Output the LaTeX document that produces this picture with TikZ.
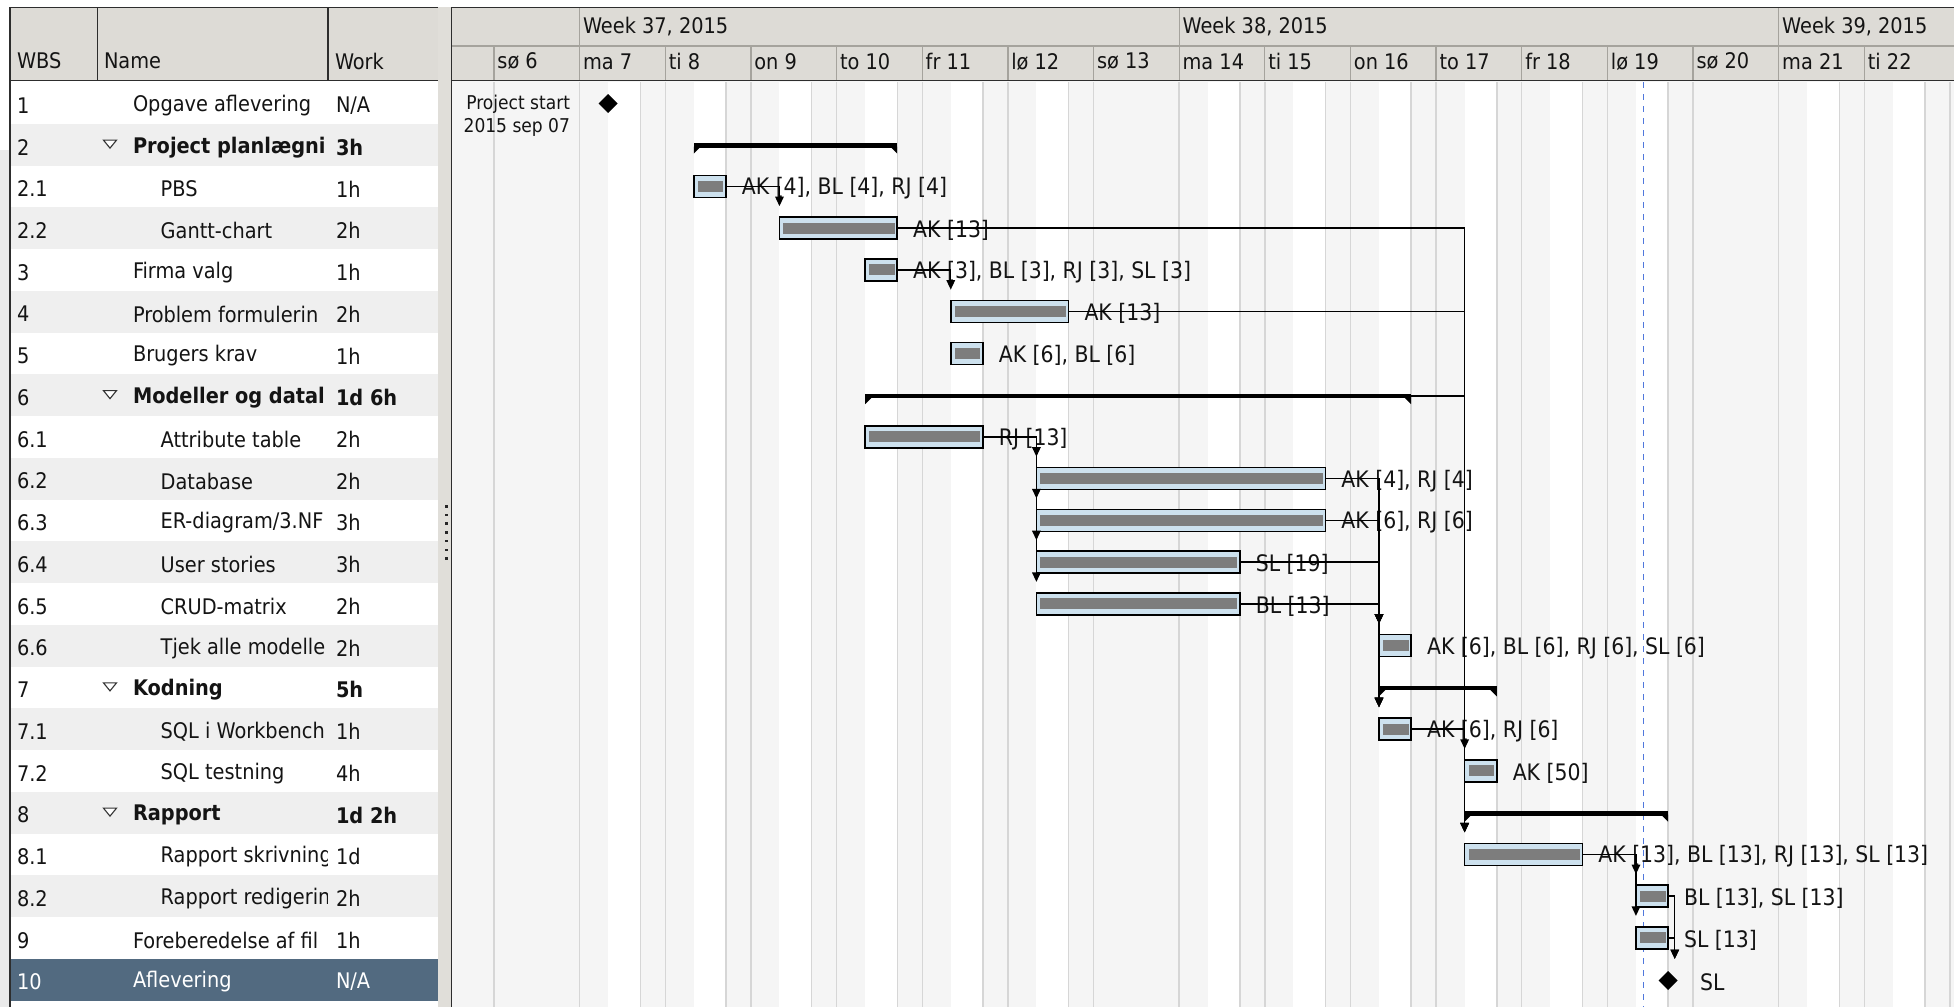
\documentclass[tikz,border=0pt]{standalone}
\usepackage{fontspec}
\setmainfont{DejaVu Sans Condensed}
\usetikzlibrary{arrows.meta,positioning,shapes.geometric}
\definecolor{hdrbg}{RGB}{221,219,214}
\definecolor{hdrline}{RGB}{165,163,157}
\definecolor{frm}{RGB}{45,45,45}
\definecolor{rowalt}{RGB}{239,239,239}
\definecolor{sel}{RGB}{82,106,128}
\definecolor{nonwork}{RGB}{245,245,245}
\definecolor{gridc}{RGB}{214,214,214}
\definecolor{barblue}{RGB}{205,225,238}
\definecolor{barin}{RGB}{125,125,125}
\definecolor{todayc}{RGB}{80,120,220}
\definecolor{txt}{RGB}{20,20,20}
\definecolor{split}{RGB}{224,222,217}
\definecolor{wmark}{RGB}{234,234,234}
\newcommand\tx[2]{579.6+85.65*(#1)+3.5688*(#2)}
\newcommand\gbar[4]{%
  \pgfmathsetmacro\gx{#2}\pgfmathsetmacro\gw{#3-(#2)}\pgfmathsetmacro\gy{102.9+41.75*#4}%
  \node[taskbar, minimum width=\gw pt, anchor=west] (#1) at (\gx,\gy) {};}
\newcommand\gsum[4]{%
  \pgfmathsetmacro\gx{#2}\pgfmathsetmacro\gxx{#3}\pgfmathsetmacro\gw{#3-(#2)}\pgfmathsetmacro\gy{102.9+41.75*#4}%
  \node[sumbar, minimum width=\gw pt, anchor=west] (#1) at (\gx,\gy+0.75) {};
  \fill (\gx,\gy+2) -- (\gx,\gy+9) -- (\gx+7,\gy+2) -- cycle;
  \fill (\gxx,\gy+2) -- (\gxx,\gy+9) -- (\gxx-7,\gy+2) -- cycle;}
\begin{document}
\begin{tikzpicture}[x=1pt,y=-1pt,
  every node/.style={inner sep=0pt, outer sep=0pt},
  tbl/.style={font=\fontsize{21.5}{25}\selectfont, text=txt, anchor=west},
  lab/.style={font=\fontsize{22.7}{26}\selectfont, text=txt, anchor=west},
  gridl/.style={draw=gridc, line width=1.4pt},
  hline/.style={draw=hdrline, line width=1.3pt},
  frame/.style={draw=frm, line width=1.6pt},
  taskbar/.style={rectangle, draw=black, line width=1.6pt, fill=barblue,
    minimum height=22pt, inner sep=0pt, outer sep=0pt,
    path picture={\fill[barin] ([xshift=4pt,yshift=-5.5pt]path picture bounding box.north west)
      rectangle ([xshift=-2.5pt,yshift=5.5pt]path picture bounding box.south east);}},
  sumbar/.style={rectangle, fill=black, minimum height=4.5pt, inner sep=0pt, outer sep=0pt},
  mile/.style={diamond, fill=black, minimum width=19pt, minimum height=19pt, inner sep=0pt},
  link/.style={draw=black, line width=1.4pt, -{Triangle[width=8.5pt,length=9.5pt]}},
  today/.style={draw=todayc, line width=1.4pt, dash pattern=on 6pt off 6pt}
]
\useasboundingbox (0,0) rectangle (1954,1007);
\fill[white] (0,0) rectangle (1954,1007);
\fill[wmark] (0,150) rectangle (9.5,1007);

% ---------- table ----------
\fill[hdrbg] (10,7) rectangle (438,81);
\foreach \rr in {1,3,...,19} {
  \pgfmathsetmacro\yt{82+41.75*\rr}
  \fill[rowalt] (11,\yt) rectangle (438,\yt+41.75);
}
\fill[sel] (11,958.75) rectangle (438,1000.5);
\fill[split] (438,7) rectangle (451,1007);
\foreach \kk in {0,...,6} \fill[black!85] (445,{505+8.7*\kk}) rectangle ++(2.6,2.6);

\node[tbl] (hwbs) at (17,61) {WBS};
\node[tbl] (hname) at (104,61) {Name};
\node[tbl] (hwork) at (335,61) {Work};

\foreach \rr/\ww/\nn/\lv/\wv in {
 0/1/Opgave aflevering/1/{N/A},
 1/2/Project planlægni/0/3h,
 2/2.1/PBS/2/1h,
 3/2.2/Gantt-chart/2/2h,
 4/3/Firma valg/1/1h,
 5/4/Problem formulerin/1/2h,
 6/5/Brugers krav/1/1h,
 7/6/Modeller og datal/0/1d 6h,
 8/6.1/Attribute table/2/2h,
 9/6.2/Database/2/2h,
 10/6.3/{ER-diagram/3.NF}/2/3h,
 11/6.4/User stories/2/3h,
 12/6.5/CRUD-matrix/2/2h,
 13/6.6/Tjek alle modelle/2/2h,
 14/7/Kodning/0/5h,
 15/7.1/SQL i Workbench/2/1h,
 16/7.2/SQL testning/2/4h,
 17/8/Rapport/0/1d 2h,
 18/8.1/Rapport skrivning/2/1d,
 19/8.2/Rapport redigerin/2/2h,
 20/9/Foreberedelse af fil/1/1h}
{
  \pgfmathsetmacro\yc{102.9+41.75*\rr}
  \pgfmathsetmacro\nx{ifthenelse(\lv==2,160.7,133)}
  \node[tbl] (wbs\rr) at (17,\yc+2.5) {\ww};
  \node[tbl] (work\rr) at (336,\yc+2.5) {\ifnum\lv=0 \bfseries\fi\wv};
  \begin{scope}
    \clip (98,\yc-20) rectangle (327.5,\yc+20);
    \node[tbl] (name\rr) at (\nx,\yc+2.5) {\ifnum\lv=0 \bfseries\fi\nn};
  \end{scope}
  \ifnum\lv=0
    \draw[draw=black!80, fill=white, line width=1.1pt] (103.5,\yc-4.5) -- (116.5,\yc-4.5) -- (110,\yc+3.5) -- cycle;
  \fi
}
\node[tbl, text=white] (wbs21) at (17,982) {10};
\node[tbl, text=white] (name21) at (133,982) {Aflevering};
\node[tbl, text=white] (work21) at (336,982) {N/A};

\draw[frame] (97.3,7) -- (97.3,80);
\draw[frame] (328,7) -- (328,80);
\draw[frame] (10,80.5) -- (438,80.5);
\draw[frame] (10,7.3) -- (438,7.3);
\draw[frame] (10,7) -- (10,1007);

% ---------- chart background ----------
\fill[nonwork] (452,81) rectangle (1954,1007);
\fill[hdrbg] (452,7) rectangle (1954,81);
\draw[hline] (452,46) -- (1954,46);
\foreach \dd/\lab/\isw in {-1/sø 6/0, 0/ma 7/1, 1/ti 8/1, 2/on 9/1, 3/to 10/1, 4/fr 11/1, 5/lø 12/1, 6/sø 13/0, 7/ma 14/1, 8/ti 15/1, 9/on 16/1, 10/to 17/1, 11/fr 18/1, 12/lø 19/1, 13/sø 20/0, 14/ma 21/1, 15/ti 22/1}
{
  \pgfmathsetmacro\dx{579.6+85.65*\dd}
  \ifnum\isw=1
    \fill[white] (\dx+28.55,82) rectangle (\dx+60.7,1007);
    \draw[gridl] (\dx+60.7,82) -- (\dx+60.7,1007);
  \fi
  \draw[gridl] (\dx,82) -- (\dx,1007);
  \draw[hline] (\dx,46) -- (\dx,80);
  \node[tbl] (day\dd) at (\dx+3.5,61.5) {\lab};
}
\draw[gridl] (1950.0,82) -- (1950.0,1007);
\foreach \dd/\wkn in {0/37, 7/38, 14/39} {
  \pgfmathsetmacro\dx{579.6+85.65*\dd}
  \draw[hline] (\dx,7) -- (\dx,46);
  \node[tbl] (week\wkn) at (\dx+3.5,27) {Week \wkn, 2015};
}
\draw[frame] (452,80.5) -- (1954,80.5);
\draw[frame] (452,7.3) -- (1954,7.3);
\draw[frame] (451.5,7) -- (451.5,1007);

% today line
\coordinate (today0) at (1643.3,82);
\coordinate (today1) at (1643.3,1007);
\draw[today] (today0) -- (today1);

% ---------- bars ----------
\node[mile] (m1) at ({\tx{0}{8}},103.5) {};
\node[font=\fontsize{19}{23}\selectfont, text=txt, align=right, anchor=east] (pstart) at (570,116) {Project start\\2015 sep 07};

\gsum{s2}{\tx{1}{8}}{\tx{3}{17}}{1}
\gbar{b21}{\tx{1}{8}}{\tx{1}{17}}{2}
\gbar{b22}{\tx{2}{8}}{\tx{3}{17}}{3}
\gbar{b3}{\tx{3}{8}}{\tx{3}{17}}{4}
\gbar{b4}{\tx{4}{8}}{\tx{5}{17}}{5}
\gbar{b5}{\tx{4}{8}}{\tx{4}{17}}{6}
\gsum{s6}{\tx{3}{8}}{\tx{9}{17}}{7}
\gbar{b61}{\tx{3}{8}}{\tx{4}{17}}{8}
\gbar{b62}{\tx{5}{8}}{\tx{8}{17}}{9}
\gbar{b63}{\tx{5}{8}}{\tx{8}{17}}{10}
\gbar{b64}{\tx{5}{8}}{\tx{7}{17}}{11}
\gbar{b65}{\tx{5}{8}}{\tx{7}{17}}{12}
\gbar{b66}{\tx{9}{8}}{\tx{9}{17}}{13}
\gsum{s7}{\tx{9}{8}}{\tx{10}{17}}{14}
\gbar{b71}{\tx{9}{8}}{\tx{9}{17}}{15}
\gbar{b72}{\tx{10}{8}}{\tx{10}{17}}{16}
\gsum{s8}{\tx{10}{8}}{\tx{12}{17}}{17}
\gbar{b81}{\tx{10}{8}}{\tx{11}{17}}{18}
\gbar{b82}{\tx{12}{8}}{\tx{12}{17}}{19}
\gbar{b9}{\tx{12}{8}}{\tx{12}{17}}{20}
\node[mile] (m10) at ({\tx{12}{17}},980.5) {};

% ---------- labels ----------
\tikzset{lab/.append style={yshift=-2pt}}
\node[lab, right=16pt of b21] (l21) {AK [4], BL [4], RJ [4]};
\node[lab, right=16pt of b22] (l22) {AK [13]};
\node[lab, right=16pt of b3] (l3) {AK [3], BL [3], RJ [3], SL [3]};
\node[lab, right=16pt of b4] (l4) {AK [13]};
\node[lab, right=16pt of b5] (l5) {AK [6], BL [6]};
\node[lab, right=16pt of b61] (l61) {RJ [13]};
\node[lab, right=16pt of b62] (l62) {AK [4], RJ [4]};
\node[lab, right=16pt of b63] (l63) {AK [6], RJ [6]};
\node[lab, right=16pt of b64] (l64) {SL [19]};
\node[lab, right=16pt of b65] (l65) {BL [13]};
\node[lab, right=16pt of b66] (l66) {AK [6], BL [6], RJ [6], SL [6]};
\node[lab, right=16pt of b71] (l71) {AK [6], RJ [6]};
\node[lab, right=16pt of b72] (l72) {AK [50]};
\node[lab, right=16pt of b81] (l81) {AK [13], BL [13], RJ [13], SL [13]};
\node[lab, right=16pt of b82] (l82) {BL [13], SL [13]};
\node[lab, right=16pt of b9] (l9) {SL [13]};
\node[lab, right=22.5pt of m10] (l10) {SL};

% ---------- links ----------
\draw[link] (b21.east) -| ([yshift=11pt]b22.north west);
\draw[link] (b22.east) -| ([yshift=11pt]b81.north west);
\draw[link] (b3.east) -| ([yshift=11pt]b4.north west);
\draw[link] (b4.east) -| ([yshift=11pt]b81.north west);
\draw[link] (s6.east) -| ([yshift=11pt]b81.north west);
\foreach \tg in {b62,b63,b64,b65} \draw[link] (b61.east) -| ([yshift=11pt]\tg.north west);
\foreach \sr in {b62,b63,b64,b65} {
  \draw[link] (\sr.east) -| ([yshift=11pt]b66.north west);
  \draw[link] (\sr.east) -| ([yshift=11pt]b71.north west);
}
\draw[link] (b71.east) -| ([yshift=11pt]b72.north west);
\draw[link] (b81.east) -| ([yshift=11pt]b82.north west);
\draw[link] (b81.east) -| ([yshift=11pt]b9.north west);
\draw[link] (b82.east) -| ([xshift=6.7pt,yshift=12pt]m10.north);
\draw[link] (b9.east) -| ([xshift=6.7pt,yshift=12pt]m10.north);
\end{tikzpicture}
\end{document}
